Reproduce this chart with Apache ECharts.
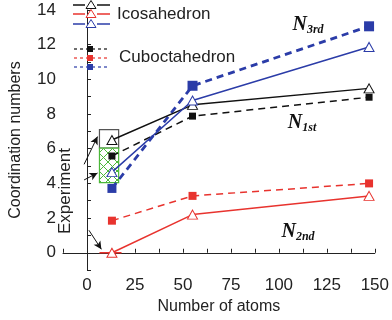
<!DOCTYPE html>
<html>
<head>
<meta charset="utf-8">
<script src="https://cdn.jsdelivr.net/npm/echarts@6/dist/echarts.min.js"></script>
<style>
  html, body { margin: 0; padding: 0; background: #fff; }
  #chart { width: 392px; height: 320px; }
</style>
</head>
<body>
<div id="chart"></div>
<script>
// cluster sizes (number of atoms)
const atoms = [13, 55, 147]

// icosahedron (solid lines, open triangles)
const icoN1 = [6.5, 8.53, 9.48]
const icoN2 = [0, 2.2, 3.28]
const icoN3 = [4.65, 8.78, 11.87]

// cuboctahedron (dashed lines, filled squares)
const cubN1 = [5.58, 7.88, 8.97]
const cubN2 = [1.85, 3.28, 4.0]
const cubN3 = [3.71, 9.63, 13.06]

// experiment ranges: [xFrom, xTo, yFrom, yTo]
const expN1 = [6.5, 16.5, 6.03, 7.1]
const expN3 = [6.5, 16.5, 4.05, 6.03]
const expN2 = [6.5, 18, 0, 0]

const font = "Liberation Sans"

function pairs(ys) {
    return atoms.map((x, i) => [x, ys[i]])
}

// green cross hatch for the experimental N3 range
function hatch() {
    const c = document.createElement("canvas")
    c.width = 9
    c.height = 9
    const g = c.getContext("2d")
    g.fillStyle = "#fff"
    g.fillRect(0, 0, 9, 9)
    g.strokeStyle = "#4cb83a"
    g.lineWidth = 1
    g.beginPath()
    g.moveTo(0, 0); g.lineTo(9, 9)
    g.moveTo(9, 0); g.lineTo(0, 9)
    g.stroke()
    return c
}

function solid(name, ys, color) {
    return {
        name: name,
        type: "line",
        data: pairs(ys),
        z: 4,
        symbol: "triangle",
        symbolSize: [10, 9],
        itemStyle: { color: "#fff", borderColor: color, borderWidth: 1 },
        lineStyle: { color: color, width: 1.5 },
        animation: false
    }
}

function dashed(name, ys, color, width, sizes) {
    return {
        name: name,
        type: "line",
        data: pairs(ys),
        z: 3,
        symbol: "rect",
        symbolSize: (v, p) => sizes[p.dataIndex],
        itemStyle: { color: color },
        lineStyle: { color: color, width: width, type: [7, 5] },
        animation: false
    }
}

const option = {
    animation: false,
    grid: { left: 53, right: 12, top: 10, bottom: 47 },
    xAxis: {
        type: "value",
        min: -12.5,
        max: 150,
        interval: 12.5,
        name: "Number of atoms",
        nameLocation: "middle",
        nameGap: 28,
        nameTextStyle: { fontFamily: font, fontSize: 16, color: "#222" },
        axisLine: { lineStyle: { color: "#222", width: 1 } },
        axisTick: { inside: true, length: 4, lineStyle: { color: "#222" } },
        axisLabel: {
            fontFamily: font, fontSize: 17, color: "#222", margin: 7,
            formatter: v => (v % 25 === 0 && v >= 0) ? String(v) : ""
        },
        splitLine: { show: false }
    },
    yAxis: {
        type: "value",
        min: -1,
        max: 14,
        interval: 1,
        name: "Coordination numbers",
        nameLocation: "middle",
        nameGap: 39,
        nameTextStyle: { fontFamily: font, fontSize: 16, color: "#222" },
        axisLine: { show: true, lineStyle: { color: "#222", width: 1 } },
        axisTick: { inside: true, length: 4, lineStyle: { color: "#222" } },
        axisLabel: {
            fontFamily: font, fontSize: 17, color: "#222", margin: 7,
            formatter: v => (v % 2 === 0 && v >= 0) ? String(v) : ""
        },
        splitLine: { show: false }
    },
    series: [
        {
            name: "experiment",
            type: "custom",
            z: 1,
            data: [expN1.concat(0), expN3.concat(1), expN2.concat(2)],
            renderItem: function (params, api) {
                const p0 = api.coord([api.value(0), api.value(3)])
                const p1 = api.coord([api.value(1), api.value(2)])
                const kind = api.value(4)
                if (kind === 2) {
                    return {
                        type: "line",
                        shape: { x1: p0[0], y1: p0[1], x2: p1[0], y2: p0[1] },
                        style: { stroke: "#e8332e", lineWidth: 1.5 }
                    }
                }
                return {
                    type: "rect",
                    shape: { x: p0[0], y: p0[1], width: p1[0] - p0[0], height: p1[1] - p0[1] },
                    style: kind === 0
                        ? { fill: "#fff", stroke: "#555", lineWidth: 1.2 }
                        : { fill: { image: hatch(), repeat: "repeat" }, stroke: "#4cb83a", lineWidth: 1.2 }
                }
            },
            markLine: {
                silent: true,
                symbol: ["none", "arrow"],
                symbolSize: [6, 8],
                label: { show: false },
                lineStyle: { color: "#111", type: "solid", width: 1 },
                data: [
                    [{ coord: [-1.5, 5.1] }, { coord: [5.5, 6.7] }],
                    [{ coord: [-1.5, 4.2] }, { coord: [5.5, 4.6] }],
                    [{ coord: [1, 1.3] }, { coord: [7.5, 0.2] }]
                ]
            },
            animation: false
        },
        solid("Ico N1", icoN1, "#111"),
        solid("Ico N2", icoN2, "#e8332e"),
        solid("Ico N3", icoN3, "#2b3ca8"),
        dashed("Cub N1", cubN1, "#111", 1.5, [7, 7, 7]),
        dashed("Cub N2", cubN2, "#e8332e", 1.5, [8, 8, 8]),
        dashed("Cub N3", cubN3, "#2b3ca8", 2.8, [9, 10, 10])
    ],
    graphic: [
        // legend, icosahedron
        ...[["#111", 5], ["#e8332e", 14], ["#2b3ca8", 24]].flatMap(([c, y]) => [
            { type: "line", shape: { x1: 73, y1: y, x2: 85, y2: y }, style: { stroke: c, lineWidth: 1.5 } },
            { type: "line", shape: { x1: 97, y1: y, x2: 110, y2: y }, style: { stroke: c, lineWidth: 1.5 } },
            { type: "polygon", z: 10, shape: { points: [[91, y - 4.5], [86, y + 3.5], [96, y + 3.5]] }, style: { fill: "#fff", stroke: c, lineWidth: 1 } }
        ]),
        { type: "text", left: 117, top: 6, style: { text: "Icosahedron", font: "17px " + font, fill: "#222" } },
        // legend, cuboctahedron
        ...[["#111", 49], ["#e8332e", 58], ["#2b3ca8", 67]].flatMap(([c, y]) => [
            { type: "line", shape: { x1: 74, y1: y, x2: 107, y2: y }, style: { stroke: c, lineWidth: 1.2, lineDash: [3, 3] } },
            { type: "rect", z: 10, shape: { x: 87, y: y - 3, width: 6, height: 6 }, style: { fill: c } }
        ]),
        { type: "text", left: 119, top: 49, style: { text: "Cuboctahedron", font: "17px " + font, fill: "#222" } },
        // annotations
        {
            type: "text", x: 65, y: 191, rotation: Math.PI / 2,
            style: { text: "Experiment", font: "17px " + font, fill: "#222", align: "center", verticalAlign: "middle" }
        },
        ...[["3rd", 308, 25], ["1st", 302, 123], ["2nd", 298, 232]].map(([s, x, y]) => ({
            type: "text", x: x, y: y,
            style: {
                text: "{n|N}{s|" + s + "}",
                align: "center", verticalAlign: "middle",
                rich: {
                    n: { font: "italic bold 20px 'Liberation Serif'", fill: "#111" },
                    s: { font: "italic bold 12px 'Liberation Serif'", fill: "#111", padding: [10, 0, 0, 0] }
                }
            }
        }))
    ]
}

const chart = echarts.init(document.getElementById("chart"))
chart.setOption(option)
window.onresize = function () {
    chart.resize()
}
</script>
</body>
</html>
